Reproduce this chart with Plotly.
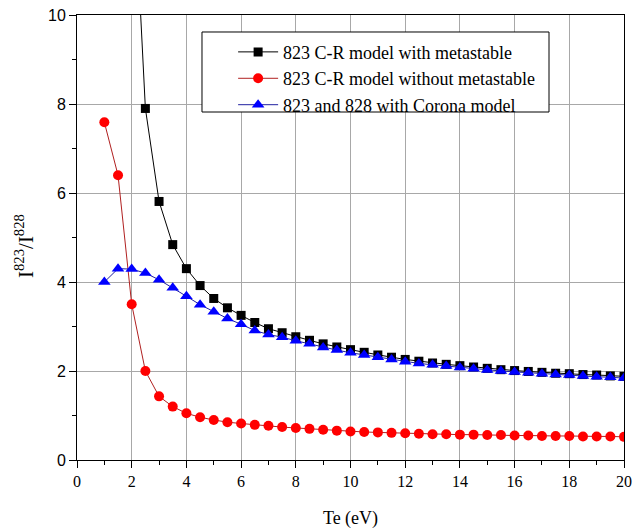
import plotly.graph_objects as go

te_black = [2.0, 2.5, 3.0, 3.5, 4.0, 4.5, 5.0, 5.5, 6.0, 6.5, 7.0, 7.5, 8.0, 8.5, 9.0, 9.5, 10.0,
            10.5, 11.0, 11.5, 12.0, 12.5, 13.0, 13.5, 14.0, 14.5, 15.0, 15.5, 16.0, 16.5, 17.0,
            17.5, 18.0, 18.5, 19.0, 19.5, 20.0]
with_meta = [14.0, 7.90, 5.81, 4.84, 4.30, 3.92, 3.63, 3.42, 3.25, 3.09, 2.95, 2.86, 2.77, 2.69,
             2.61, 2.54, 2.48, 2.42, 2.36, 2.31, 2.26, 2.22, 2.18, 2.15, 2.12, 2.09, 2.06, 2.03,
             2.01, 1.99, 1.97, 1.95, 1.94, 1.92, 1.91, 1.89, 1.88]

te_all = [1.0, 1.5, 2.0, 2.5, 3.0, 3.5, 4.0, 4.5, 5.0, 5.5, 6.0, 6.5, 7.0, 7.5, 8.0, 8.5, 9.0, 9.5,
          10.0, 10.5, 11.0, 11.5, 12.0, 12.5, 13.0, 13.5, 14.0, 14.5, 15.0, 15.5, 16.0, 16.5,
          17.0, 17.5, 18.0, 18.5, 19.0, 19.5, 20.0]
without_meta = [7.59, 6.40, 3.50, 2.00, 1.43, 1.20, 1.05, 0.96, 0.90, 0.85, 0.82, 0.79, 0.77,
                0.74, 0.72, 0.70, 0.68, 0.66, 0.64, 0.63, 0.62, 0.61, 0.60, 0.59, 0.58, 0.58,
                0.57, 0.57, 0.56, 0.56, 0.55, 0.55, 0.54, 0.54, 0.54, 0.53, 0.53, 0.53, 0.52]
corona = [4.00, 4.30, 4.29, 4.20, 4.05, 3.87, 3.68, 3.49, 3.33, 3.18, 3.05, 2.91, 2.82, 2.76,
          2.68, 2.61, 2.53, 2.47, 2.41, 2.36, 2.31, 2.26, 2.21, 2.17, 2.14, 2.11, 2.08, 2.05,
          2.02, 2.00, 1.98, 1.96, 1.94, 1.92, 1.91, 1.89, 1.87, 1.86, 1.84]

names = ["823 C-R model with metastable",
         "823 C-R model without metastable",
         "823 and 828 with Corona model"]

serif = "'Liberation Serif', 'Times New Roman', serif"
sans = "'Liberation Sans', Arial, sans-serif"

fig = go.Figure()
fig.add_trace(go.Scatter(x=te_black, y=with_meta, mode="lines+markers", name=names[0],
                         legendgroup="a",
                         line=dict(color="black", width=1),
                         marker=dict(symbol="square", size=9, color="black")))
fig.add_trace(go.Scatter(x=te_all, y=without_meta, mode="lines+markers", name=names[1],
                         legendgroup="b",
                         line=dict(color="#b02020", width=1),
                         marker=dict(symbol="circle", size=10, color="#ff0000")))
fig.add_trace(go.Scatter(x=te_all, y=corona, mode="lines+markers", name=names[2],
                         legendgroup="c",
                         line=dict(color="#2020a0", width=1),
                         marker=dict(symbol="triangle-up", size=11, color="#0000ff")))

# legend frame
fig.add_shape(type="rect", xref="paper", yref="paper",
              x0=0.2285, x1=0.8629, y0=0.782, y1=0.9618,
              line=dict(color="black", width=1), fillcolor="white", layer="above")

# y-axis title
fig.add_annotation(text="I<sup>823</sup>/I<sup>828</sup>", xref="paper", yref="paper",
                   x=-0.095, y=0.481, xanchor="center", yanchor="middle",
                   textangle=-90, showarrow=False,
                   font=dict(family=serif, size=21, color="black"))

fig.update_layout(
    width=633, height=529,
    margin=dict(l=77, r=9, t=15, b=69),
    paper_bgcolor="white", plot_bgcolor="white",
    showlegend=True,
    legend=dict(x=0.2854, y=0.958, xanchor="left", yanchor="top",
                bgcolor="rgba(0,0,0,0)", borderwidth=0,
                font=dict(family=serif, size=18, color="black"),
                itemwidth=40, tracegroupgap=0),
)
fig.update_xaxes(
    range=[0, 20], dtick=2, tick0=0, automargin=False,
    showgrid=True, gridcolor="#a8a8a8", gridwidth=1,
    showline=True, linecolor="black", linewidth=1, mirror=True,
    ticks="outside", ticklen=7, tickcolor="black",
    minor=dict(ticks="outside", dtick=1, ticklen=4, tickcolor="black", showgrid=False),
    tickfont=dict(family=serif, size=16, color="black"),
    title=dict(text="Te (eV)", font=dict(family=serif, size=18, color="black"), standoff=26),
    zeroline=False,
)
fig.update_yaxes(
    range=[0, 10], dtick=2, tick0=0, automargin=False,
    showgrid=True, gridcolor="#a8a8a8", gridwidth=1,
    showline=True, linecolor="black", linewidth=1, mirror=True,
    ticks="outside", ticklen=7, tickcolor="black",
    minor=dict(ticks="outside", dtick=1, ticklen=4, tickcolor="black", showgrid=False),
    tickfont=dict(family=sans, size=16, color="black"),
    zeroline=False,
)

fig.write_html("out.html")
